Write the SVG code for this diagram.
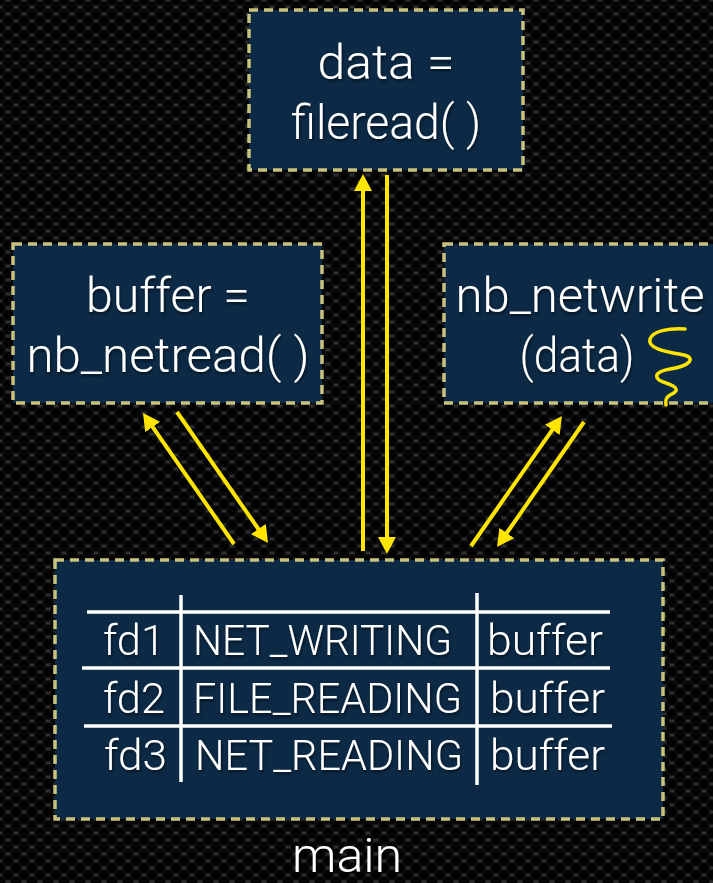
<svg xmlns="http://www.w3.org/2000/svg" width="713" height="883" viewBox="0 0 713 883">
  <defs>
    <radialGradient id="hole" cx="50%" cy="50%" r="50%">
      <stop offset="0" stop-color="#000"/>
      <stop offset="0.7" stop-color="#050505"/>
      <stop offset="1" stop-color="#050505" stop-opacity="0"/>
    </radialGradient>
    <pattern id="carbon" width="16" height="14" patternUnits="userSpaceOnUse">
      <rect width="16" height="14" fill="#2e2e2e"/>
      <circle cx="0" cy="0" r="6.5" fill="url(#hole)"/>
      <circle cx="16" cy="0" r="6.5" fill="url(#hole)"/>
      <circle cx="8" cy="7" r="6.5" fill="url(#hole)"/>
      <circle cx="0" cy="14" r="6.5" fill="url(#hole)"/>
      <circle cx="16" cy="14" r="6.5" fill="url(#hole)"/>
    </pattern>
    <marker id="head" viewBox="0 0 17 18" refX="5" refY="9" markerWidth="17" markerHeight="18" markerUnits="userSpaceOnUse" orient="auto">
      <path d="M0,0 L17,9 L0,18 z" fill="#ffe500"/>
    </marker>
    <filter id="shadow" x="-10%" y="-20%" width="120%" height="150%">
      <feDropShadow dx="1" dy="2" stdDeviation="1.5" flood-color="#000" flood-opacity="0.6"/>
    </filter>
  </defs>
  <style>
    .box { fill: #0c2a46; stroke: #c9c27c; stroke-width: 3.5; stroke-dasharray: 9 6; }
    .label { font-family: Roboto, "Liberation Sans", sans-serif; font-weight: 300; font-size: 48px; fill: #ffffff; text-anchor: middle; filter: url(#shadow); }
    .cell { font-family: Roboto, "Liberation Sans", sans-serif; font-weight: 300; font-size: 43px; fill: #ffffff; filter: url(#shadow); }
    .grid { stroke: #ffffff; stroke-width: 3.5; }
    .arrow { stroke: #ffe500; stroke-width: 4; fill: none; marker-end: url(#head); }
  </style>

  <!-- backdrop -->
  <rect width="713" height="883" fill="url(#carbon)"/>

  <!-- connectors -->
  <g id="connectors">
    <line class="arrow" x1="363" y1="551" x2="363" y2="186"/>
    <line class="arrow" x1="387" y1="175" x2="387" y2="542"/>
    <line class="arrow" x1="234" y1="544" x2="149.8" y2="422.9"/>
    <line class="arrow" x1="177" y1="412" x2="261.2" y2="533.1"/>
    <line class="arrow" x1="471" y1="546" x2="555.1" y2="425.8"/>
    <line class="arrow" x1="584" y1="422" x2="503.9" y2="537.1"/>
  </g>

  <g id="fileread">
    <rect class="box" x="249" y="10" width="274" height="160"/>
    <text class="label" x="386" y="79" textLength="137" lengthAdjust="spacingAndGlyphs">data =</text>
    <text class="label" x="386" y="139" textLength="190" lengthAdjust="spacingAndGlyphs">fileread( )</text>
  </g>

  <g id="netread">
    <rect class="box" x="13" y="244" width="309" height="159"/>
    <text class="label" x="168" y="312" textLength="164" lengthAdjust="spacingAndGlyphs">buffer =</text>
    <text class="label" x="168" y="372" textLength="283" lengthAdjust="spacingAndGlyphs">nb_netread( )</text>
  </g>

  <g id="netwrite">
    <rect class="box" x="444" y="244" width="300" height="159"/>
    <text class="label" x="580" y="312" textLength="249" lengthAdjust="spacingAndGlyphs">nb_netwrite</text>
    <text class="label" x="577" y="372" textLength="115" lengthAdjust="spacingAndGlyphs">(data)</text>
    <path d="M685,329 C668,328 653,331 650,339 C647,349 668,352 684,355 C696,358 690,366 670,369 C653,372 653,379 666,383 C681,388 677,392 670,395 C664,399 666,402 666,405" fill="none" stroke="#ffe500" stroke-width="3.5" stroke-linecap="round"/>
  </g>

  <g id="main">
    <rect class="box" x="55" y="560" width="608" height="259"/>
    <line class="grid" x1="87" y1="612" x2="610" y2="612"/>
    <line class="grid" x1="82" y1="668" x2="610" y2="668"/>
    <line class="grid" x1="84" y1="726" x2="612" y2="726"/>
    <line class="grid" x1="181" y1="595" x2="181" y2="782"/>
    <line class="grid" x1="477" y1="593" x2="477" y2="785"/>
    <text class="cell" x="103" y="655" textLength="62" lengthAdjust="spacingAndGlyphs">fd1</text>
    <text class="cell" x="193" y="655" font-size="41" textLength="259" lengthAdjust="spacingAndGlyphs">NET_WRITING</text>
    <text class="cell" x="487" y="655" textLength="116" lengthAdjust="spacingAndGlyphs">buffer</text>
    <text class="cell" x="103" y="713" textLength="62" lengthAdjust="spacingAndGlyphs">fd2</text>
    <text class="cell" x="193" y="713" font-size="41" textLength="269" lengthAdjust="spacingAndGlyphs">FILE_READING</text>
    <text class="cell" x="490" y="713" textLength="115" lengthAdjust="spacingAndGlyphs">buffer</text>
    <text class="cell" x="104" y="770" textLength="63" lengthAdjust="spacingAndGlyphs">fd3</text>
    <text class="cell" x="195" y="770" font-size="41" textLength="268" lengthAdjust="spacingAndGlyphs">NET_READING</text>
    <text class="cell" x="490" y="770" textLength="115" lengthAdjust="spacingAndGlyphs">buffer</text>
    <text class="label" x="347" y="872" font-size="48" textLength="110" lengthAdjust="spacingAndGlyphs">main</text>
  </g>
</svg>
